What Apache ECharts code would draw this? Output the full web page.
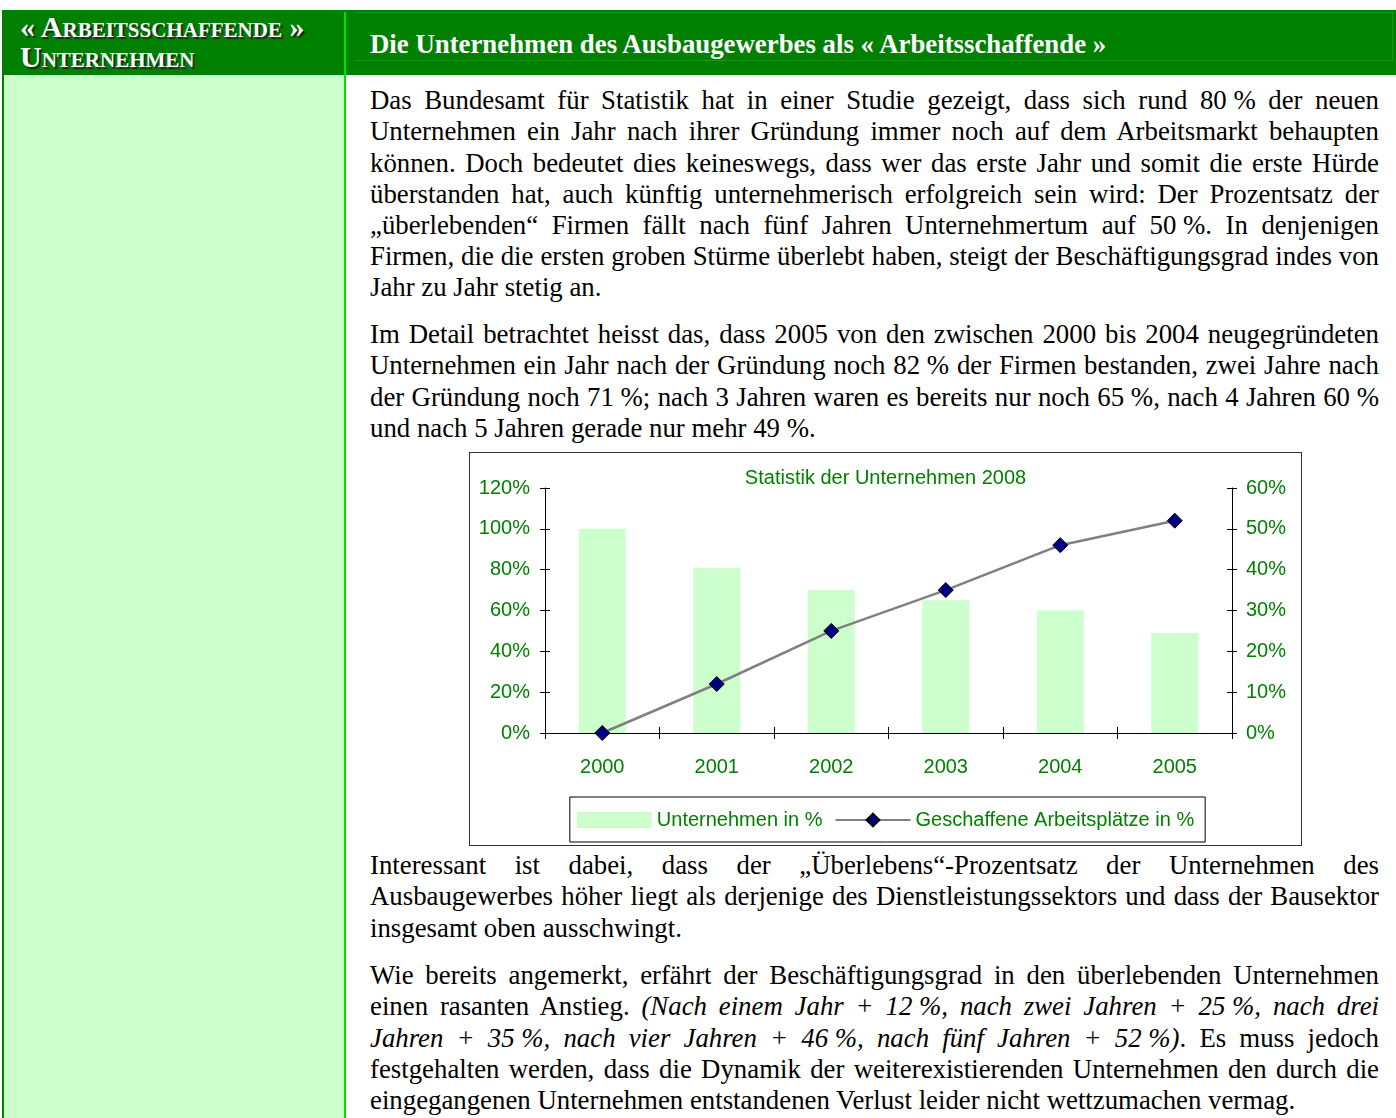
<!DOCTYPE html>
<html><head><meta charset="utf-8">
<script src="https://cdn.jsdelivr.net/npm/echarts@6/dist/echarts.min.js"></script>
<style>
html,body{margin:0;padding:0;background:#fff;}
body{width:1396px;height:1118px;overflow:hidden;position:relative;font-family:'Liberation Serif','Times New Roman',serif;color:#000;}
.hdr{position:absolute;left:2px;top:10px;width:1394px;height:65px;background:#008000;}
.hdrline{position:absolute;left:356px;top:12px;width:1036px;height:47px;border:1px solid #1e941e;border-left:none;}
.leftcol{position:absolute;left:2px;top:75px;width:340px;height:1043px;background:#ccffcc;border-left:2px solid #008000;}
.sep{position:absolute;left:344px;top:12px;width:2px;height:1106px;background:#00e000;}
.hl{position:absolute;left:20px;color:#fff;font-weight:bold;font-size:30px;font-variant:small-caps;text-shadow:2px 2px 1px #1b2b10;white-space:nowrap;line-height:30px;}
.hr{position:absolute;left:370px;top:29px;color:#fff;font-weight:bold;font-size:26.8px;white-space:nowrap;line-height:30px;}
.para{position:absolute;left:370px;width:1009px;font-size:26.8px;line-height:31.2px;}
.ln{white-space:nowrap;height:31.2px;}
.nb{word-spacing:0 !important;}
#chartbox{position:absolute;left:469px;top:452px;width:831px;height:392px;border:1px solid #333;background:#fff;}
#chart{width:831px;height:392px;}
</style>
</head><body>
<div class="hdr"></div>
<div class="hdrline"></div>
<div class="leftcol"></div>
<div class="sep"></div>
<div class="hl" style="top:12px;">« Arbeitsschaffende »</div>
<div class="hl" style="top:42px;">Unternehmen</div>
<div class="hr">Die Unternehmen des Ausbaugewerbes als « Arbeitsschaffende »</div>

<div class="para" style="top:85.3px;">
<div class="ln j"><span>Das Bundesamt für Statistik hat in einer Studie gezeigt, dass sich rund <span class="nb">80&nbsp;%</span> der neuen</span></div>
<div class="ln j"><span>Unternehmen ein Jahr nach ihrer Gründung immer noch auf dem Arbeitsmarkt behaupten</span></div>
<div class="ln j"><span>können. Doch bedeutet dies keineswegs, dass wer das erste Jahr und somit die erste Hürde</span></div>
<div class="ln j"><span>überstanden hat, auch künftig unternehmerisch erfolgreich sein wird: Der Prozentsatz der</span></div>
<div class="ln j"><span>„überlebenden“ Firmen fällt nach fünf Jahren Unternehmertum auf <span class="nb">50&nbsp;%</span>. In denjenigen</span></div>
<div class="ln j"><span>Firmen, die die ersten groben Stürme überlebt haben, steigt der Beschäftigungsgrad indes von</span></div>
<div class="ln"><span>Jahr zu Jahr stetig an.</span></div>
</div>

<div class="para" style="top:319.3px;">
<div class="ln j"><span>Im Detail betrachtet heisst das, dass 2005 von den zwischen 2000 bis 2004 neugegründeten</span></div>
<div class="ln j"><span>Unternehmen ein Jahr nach der Gründung noch <span class="nb">82&nbsp;%</span> der Firmen bestanden, zwei Jahre nach</span></div>
<div class="ln j"><span>der Gründung noch <span class="nb">71&nbsp;%;</span> nach 3 Jahren waren es bereits nur noch <span class="nb">65&nbsp;%,</span> nach 4 Jahren <span class="nb">60&nbsp;%</span></span></div>
<div class="ln"><span>und nach 5 Jahren gerade nur mehr 49 %.</span></div>
</div>

<div id="chartbox"><div id="chart"></div></div>

<div class="para" style="top:850.3px;">
<div class="ln j"><span>Interessant ist dabei, dass der „Überlebens“-Prozentsatz der Unternehmen des</span></div>
<div class="ln j"><span>Ausbaugewerbes höher liegt als derjenige des Dienstleistungssektors und dass der Bausektor</span></div>
<div class="ln"><span>insgesamt oben ausschwingt.</span></div>
</div>

<div class="para" style="top:960.3px;">
<div class="ln j"><span>Wie bereits angemerkt, erfährt der Beschäftigungsgrad in den überlebenden Unternehmen</span></div>
<div class="ln j"><span>einen rasanten Anstieg. <i>(Nach einem Jahr + <span class="nb">12&nbsp;%,</span> nach zwei Jahren + <span class="nb">25&nbsp;%,</span> nach drei</i></span></div>
<div class="ln j"><span><i>Jahren + <span class="nb">35&nbsp;%,</span> nach vier Jahren + <span class="nb">46&nbsp;%,</span> nach fünf Jahren + <span class="nb">52&nbsp;%)</span></i>. Es muss jedoch</span></div>
<div class="ln j"><span>festgehalten werden, dass die Dynamik der weiterexistierenden Unternehmen den durch die</span></div>
<div class="ln"><span>eingegangenen Unternehmen entstandenen Verlust leider nicht wettzumachen vermag.</span></div>
</div>

<script>
// ---- data ----
const categories = ['2000', '2001', '2002', '2003', '2004', '2005'];
const firmsPct = [100, 81, 70, 65, 60, 49];
const jobsPct = [0, 12, 25, 35, 46, 52];
const leftAxisRange = [0, 120, 20];
const rightAxisRange = [0, 60, 10];
const titleText = 'Statistik der Unternehmen 2008';
const seriesNames = ['Unternehmen in %', 'Geschaffene Arbeitsplätze in %'];

// ---- justify lines ----
document.querySelectorAll('.ln.j').forEach(function (ln) {
  const sp = ln.firstElementChild;
  const w = sp.getBoundingClientRect().width;
  let count = 0;
  const walker = document.createTreeWalker(sp, NodeFilter.SHOW_TEXT);
  let n;
  while ((n = walker.nextNode())) {
    if (n.parentElement.closest('.nb')) continue;
    count += (n.nodeValue.match(/ /g) || []).length;
  }
  const target = 1009;
  if (w > target) {
    sp.style.display = 'inline-block';
    sp.style.transformOrigin = '0 0';
    sp.style.transform = 'scaleX(' + (target / w) + ')';
  } else if (count > 0) {
    ln.style.wordSpacing = ((target - w) / count) + 'px';
  }
});

// ---- chart ----
const GREEN = '#008000';
const FONT = "'Liberation Sans','Arial',sans-serif";
const lbl = { color: GREEN, fontFamily: FONT, fontSize: 20 };
const chart = echarts.init(document.getElementById('chart'), null, { renderer: 'canvas' });
function valAxis(range, pos, main) {
  return {
    type: 'value', min: range[0], max: range[1], interval: range[2], position: pos,
    axisLine: { show: main, lineStyle: { color: '#000', width: 1 } },
    axisTick: { show: true, inside: !main, length: 5, lineStyle: { color: '#000', width: 1 } },
    axisLabel: main ? Object.assign({}, lbl, { formatter: '{value}%', margin: pos === 'left' ? 15 : 14 }) : { show: false },
    splitLine: { show: false }
  };
}
chart.setOption({
  animation: false,
  title: { text: titleText, left: 'center', top: 15, padding: 0,
    textStyle: { color: GREEN, fontFamily: FONT, fontSize: 20, fontWeight: 'normal' } },
  grid: { left: 75, top: 35, width: 687, height: 245 },
  legend: {
    left: 'center', top: 344, orient: 'horizontal',
    data: [{ name: seriesNames[0], icon: 'rect' }, { name: seriesNames[1] }],
    itemWidth: 75, itemHeight: 16, itemGap: 12,
    padding: [13, 11, 12, 7],
    borderColor: '#000', borderWidth: 1,
    textStyle: lbl
  },
  xAxis: [
    { type: 'category', data: categories, position: 'bottom', boundaryGap: true,
      axisLine: { show: true, lineStyle: { color: '#000', width: 1 } },
      axisTick: { show: true, length: 6, lineStyle: { color: '#000' } },
      axisLabel: Object.assign({}, lbl, { margin: 24 }) },
    { type: 'category', data: categories, position: 'bottom', boundaryGap: true,
      axisLine: { show: false },
      axisTick: { show: true, inside: true, length: 6, lineStyle: { color: '#000' } },
      axisLabel: { show: false } }
  ],
  yAxis: [
    valAxis(leftAxisRange, 'left', true),
    valAxis(rightAxisRange, 'right', true),
    valAxis(leftAxisRange, 'left', false),
    valAxis(rightAxisRange, 'right', false)
  ],
  series: [
    { type: 'bar', name: seriesNames[0], data: firmsPct, yAxisIndex: 0, barWidth: 47,
      itemStyle: { color: '#ccffcc' } },
    { type: 'line', name: seriesNames[1], data: jobsPct, yAxisIndex: 1,
      symbol: 'diamond', symbolSize: 15, z: 5,
      lineStyle: { color: '#808080', width: 2.5 },
      itemStyle: { color: '#000080', borderColor: '#000', borderWidth: 1 } }
  ]
});
</script>
</body></html>
